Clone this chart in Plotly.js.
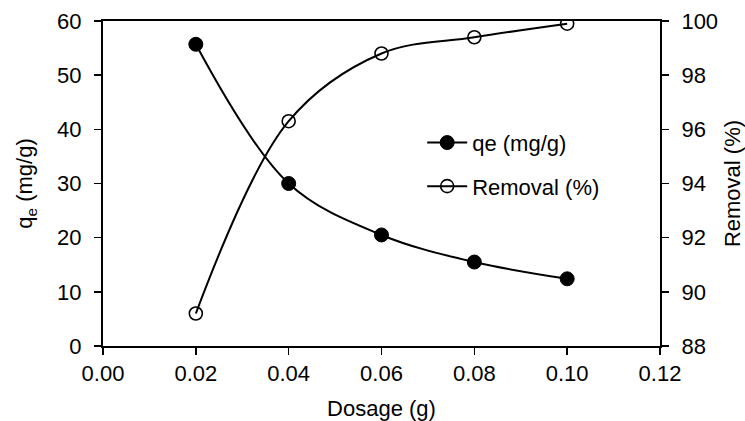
<!DOCTYPE html>
<html>
<head>
<meta charset="utf-8">
<script src="https://cdn.plot.ly/plotly-3.0.1.min.js"></script>
<style>html,body{margin:0;padding:0;background:#fff;}#chart{width:745px;height:421px;}</style>
</head>
<body>
<div id="chart"></div>
<script>
var dosage = [0.02, 0.04, 0.06, 0.08, 0.10];
var qe = [55.7, 30.0, 20.5, 15.5, 12.4];
var removal = [89.2, 96.3, 98.8, 99.4, 99.9];
var xTicks = [0, 0.02, 0.04, 0.06, 0.08, 0.10, 0.12];
var xTickText = ["0.00", "0.02", "0.04", "0.06", "0.08", "0.10", "0.12"];

var font = "Liberation Sans, Arial, sans-serif";
var fs = 22;

var traces = [
  {
    x: dosage, y: qe, name: "qe (mg/g)", type: "scatter", mode: "lines+markers",
    legendgroup: "a",
    line: {color: "#000", width: 2, shape: "spline", smoothing: 1},
    marker: {symbol: "circle", size: 14, color: "#000", line: {color: "#000", width: 1}},
    yaxis: "y"
  },
  {
    x: dosage, y: removal, name: "Removal (%)", type: "scatter", mode: "lines+markers",
    legendgroup: "b",
    line: {color: "#000", width: 2, shape: "spline", smoothing: 1},
    marker: {symbol: "circle-open", size: 13, color: "#000", line: {color: "#000", width: 1.6}},
    yaxis: "y2"
  }
];

var layout = {
  width: 745, height: 421,
  margin: {l: 103, r: 85, t: 21, b: 75},
  paper_bgcolor: "#fff", plot_bgcolor: "#fff",
  font: {family: font, size: fs, color: "#000"},
  showlegend: true,
  legend: {x: 0.573, y: 0.69, xanchor: "left", yanchor: "top", bgcolor: "rgba(0,0,0,0)",
           font: {family: font, size: 22, color: "#000"}, tracegroupgap: 12, itemwidth: 40},
  xaxis: {
    range: [0, 0.12], tickvals: xTicks, ticktext: xTickText,
    showgrid: false, zeroline: false,
    showline: true, linecolor: "#000", linewidth: 2, mirror: true,
    ticks: "outside", ticklen: 7, tickwidth: 1.5, tickcolor: "#000",
    tickfont: {family: font, size: fs, color: "#000"},
    title: {text: "Dosage (g)", font: {family: font, size: fs, color: "#000"}, standoff: 16}
  },
  yaxis: {
    range: [0, 60], dtick: 10, tick0: 0,
    showgrid: false, zeroline: false,
    showline: true, linecolor: "#000", linewidth: 2,
    ticks: "outside", ticklen: 7, tickwidth: 1.5, tickcolor: "#000",
    ticklabelstandoff: 8,
    tickfont: {family: font, size: fs, color: "#000"},
    title: {text: "q<sub>e</sub> (mg/g)", font: {family: font, size: fs, color: "#000"}, standoff: 18}
  },
  yaxis2: {
    range: [88, 100], dtick: 2, tick0: 88,
    overlaying: "y", side: "right",
    showgrid: false, zeroline: false,
    showline: true, linecolor: "#000", linewidth: 2,
    ticks: "outside", ticklen: 7, tickwidth: 1.5, tickcolor: "#000",
    ticklabelstandoff: 8,
    tickfont: {family: font, size: fs, color: "#000"},
    title: {text: "Removal (%)", font: {family: font, size: fs, color: "#000"}, standoff: 12}
  }
};

Plotly.newPlot("chart", traces, layout, {displayModeBar: false, staticPlot: true});
</script>
</body>
</html>
